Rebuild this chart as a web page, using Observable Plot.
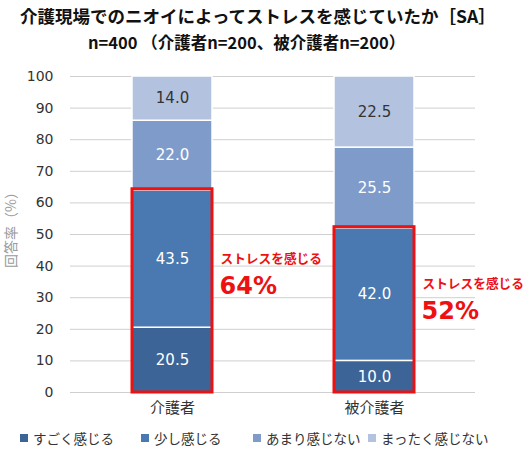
<!DOCTYPE html>
<html>
<head>
<meta charset="utf-8">
<script src="https://cdn.jsdelivr.net/npm/d3@7"></script>
<script src="https://cdn.jsdelivr.net/npm/@observablehq/plot@0.6"></script>
<style>
  body { margin: 0; background: #fff; font-family: "Noto Sans CJK JP", sans-serif; }
  #wrap { width: 524px; height: 458px; position: relative; overflow: hidden; }
  #title { position: absolute; left: 20px; top: 3px; font-size: 17.5px; font-weight: bold; color: #111; white-space: nowrap; }
  #subtitle { position: absolute; left: 88px; top: 30px; font-size: 16.5px; font-weight: bold; color: #111; white-space: nowrap; }
  #chart { position: absolute; left: 0; top: 56px; }
  #legend { position: absolute; left: 0; top: 428px; width: 524px; font-size: 13.5px; color: #333; white-space: nowrap; }
  .item { position: absolute; top: 0; display: flex; align-items: center; }
  .sw { width: 8px; height: 8px; margin-right: 5px; display: inline-block; }
</style>
</head>
<body>
<div id="wrap">
  <div id="title"></div>
  <div id="subtitle"></div>
  <div id="chart"></div>
  <div id="legend"></div>
</div>
<script>
const titleText = "介護現場でのニオイによってストレスを感じていたか［SA］";
const subtitleText = "n=400 （介護者n=200、被介護者n=200）";
const categories = ["介護者", "被介護者"];
const seriesNames = ["すごく感じる", "少し感じる", "あまり感じない", "まったく感じない"];
const seriesColors = ["#3d6496", "#4a78b0", "#7e9bc9", "#b3c3df"];
const labelColors = ["#ffffff", "#ffffff", "#ffffff", "#333333"];
const valuesCarer = [20.5, 43.5, 22.0, 14.0];
const valuesCared = [10.0, 42.0, 25.5, 22.5];
const yTicks = [0, 10, 20, 30, 40, 50, 60, 70, 80, 90, 100];
const yLabel = "回答率（%）";
const stressLabel = "ストレスを感じる";

document.getElementById("title").textContent = titleText;
document.getElementById("subtitle").textContent = subtitleText;

const allValues = [valuesCarer, valuesCared];
const rows = [];
categories.forEach((c, ci) => {
  seriesNames.forEach((s, si) => {
    rows.push({cat: c, series: s, value: allValues[ci][si], si});
  });
});
const stress = categories.map((c, ci) => ({
  cat: c,
  total: allValues[ci][0] + allValues[ci][1]
}));

const chart = Plot.plot({
  width: 524,
  height: 370,
  marginLeft: 70,
  marginRight: 49,
  marginTop: 20,
  marginBottom: 34,
  style: {fontFamily: "'DejaVu Sans', sans-serif", background: "transparent"},
  x: {domain: categories, padding: 0, axis: null},
  y: {domain: [0, 100], ticks: yTicks, axis: null},
  color: {domain: seriesNames, range: seriesColors},
  marks: [
    Plot.ruleY(yTicks, {stroke: "#cfcfcf", strokeWidth: 1}),
    Plot.text(yTicks, {y: d => d, text: d => String(d), frameAnchor: "left", textAnchor: "end", dx: -17, fontSize: 14, fill: "#333"}),
    Plot.barY(rows, Plot.stackY({
      x: "cat", y: "value", fill: "series", order: seriesNames,
      insetLeft: 61, insetRight: 61, stroke: "#ffffff", strokeWidth: 1.5
    })),
    Plot.text(rows, Plot.stackY({
      x: "cat", y: "value", order: seriesNames,
      text: d => d.value.toFixed(1),
      fill: d => labelColors[d.si], fontSize: 15
    })),
    Plot.rect(stress, {
      x: "cat", y1: 0, y2: "total",
      insetLeft: 61, insetRight: 61, insetTop: -1,
      fill: "none", stroke: "#ee1111", strokeWidth: 3
    }),
    Plot.text(stress, {
      x: "cat", y: d => d.total * 0.66, text: () => stressLabel,
      textAnchor: "start", dx: 48, fill: "#ee1111", fontWeight: "bold", fontSize: 12.7,
      fontFamily: "'Noto Sans CJK JP', sans-serif"
    }),
    Plot.text(stress, {
      x: "cat", y: d => d.total * 0.66, text: d => Math.round(d.total) + "%",
      textAnchor: "start", dx: 47, dy: 27, fill: "#ee1111", fontWeight: "bold", fontSize: 24,
      fontFamily: "'DejaVu Sans', sans-serif"
    }),
    Plot.text(categories, {
      x: d => d, frameAnchor: "bottom", dy: 20, text: d => d, fontSize: 15, fill: "#333",
      fontFamily: "'Noto Sans CJK JP', sans-serif"
    }),
    Plot.text([yLabel], {
      frameAnchor: "left", textAnchor: "middle", dx: -59, dy: -8, text: d => d, rotate: -90, fontSize: 14, fill: "#9a9a9a",
      fontFamily: "'Noto Sans CJK JP', sans-serif"
    })
  ]
});
document.getElementById("chart").appendChild(chart);

const legend = document.getElementById("legend");
const lefts = [20, 141, 253, 368];
seriesNames.forEach((s, i) => {
  const item = document.createElement("div");
  item.className = "item";
  item.style.left = lefts[i] + "px";
  const sw = document.createElement("span");
  sw.className = "sw";
  sw.style.background = seriesColors[i];
  const t = document.createElement("span");
  t.textContent = s;
  item.appendChild(sw);
  item.appendChild(t);
  legend.appendChild(item);
});
</script>
</body>
</html>
